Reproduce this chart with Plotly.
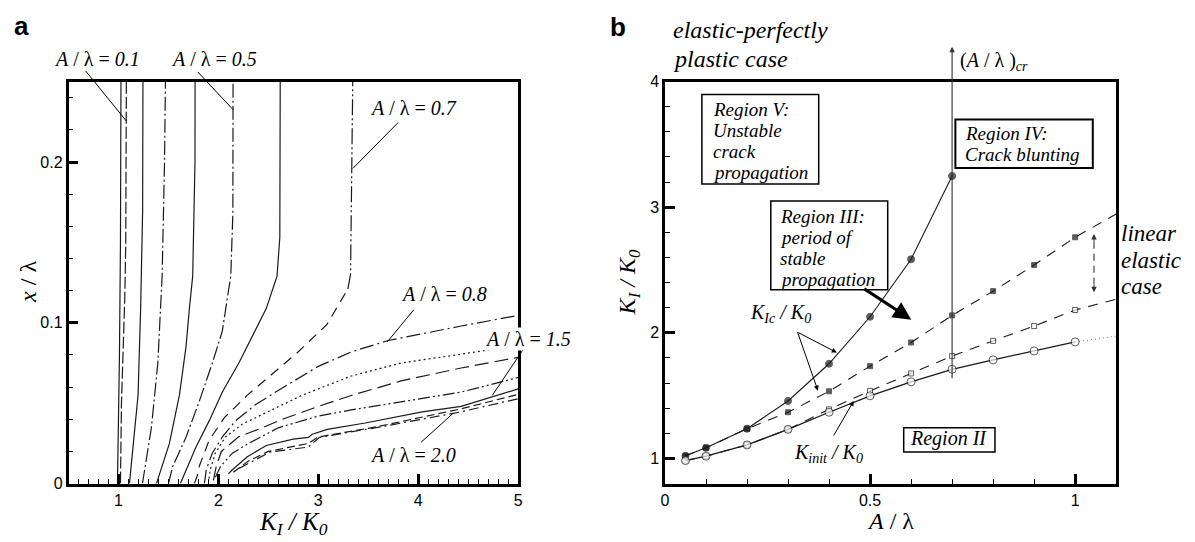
import plotly.graph_objects as go

W, H = 1195, 542
# plot-area pixel frames
LX0, LX1 = 65.0, 518.0
RX0, RX1 = 666.0, 1120.6
PY0, PY1 = 76.0, 491.0
L_XR, L_YR = [0.5, 5.0], [0.0, 0.25]
R_XR, R_YR = [0.0, 1.1], [0.8, 4.0]

# ---------------- panel a : x/lambda vs K_I/K_0 ----------------
a005_K = [0.99, 1.00, 1.01, 1.02, 1.025]
a005_x = [0.0, 0.03, 0.08, 0.15, 0.25]
a01_K = [1.02, 1.03, 1.063, 1.073, 1.079]
a01_x = [0.0, 0.05, 0.115, 0.15, 0.25]
a02_K = [1.11, 1.16, 1.196, 1.222, 1.242, 1.245]
a02_x = [0.0, 0.03, 0.055, 0.109, 0.17, 0.25]
a03_K = [1.24, 1.30, 1.33, 1.394, 1.421, 1.437, 1.461, 1.47]
a03_x = [0.0, 0.025, 0.035, 0.075, 0.109, 0.129, 0.2, 0.25]
a04_K = [1.38, 1.51, 1.61, 1.676, 1.71, 1.743, 1.766, 1.767]
a04_x = [0.0, 0.025, 0.055, 0.085, 0.109, 0.129, 0.2, 0.25]
a05_K = [1.50, 1.543, 1.676, 1.808, 1.94, 2.04, 2.074, 2.124, 2.145, 2.147]
a05_x = [0.0, 0.0106, 0.0288, 0.051, 0.075, 0.095, 0.109, 0.129, 0.168, 0.25]
a06_K = [1.62, 1.693, 1.776, 1.908, 2.04, 2.205, 2.37, 2.48, 2.587, 2.615, 2.619]
a06_x = [0.0, 0.0106, 0.0228, 0.039, 0.057, 0.075, 0.095, 0.109, 0.129, 0.153, 0.25]
a07_K = [1.76, 1.79, 1.81, 1.908, 2.06, 2.29, 2.517, 2.783, 3.087, 3.296, 3.323, 3.345]
a07_x = [0.0, 0.005, 0.011, 0.027, 0.041, 0.055, 0.067, 0.081, 0.099, 0.121, 0.13, 0.25]
a08_K = [1.86, 1.88, 1.94, 2.04, 2.17, 2.37, 2.64, 3.0, 3.33, 3.7, 4.43, 5.0]
a08_x = [0.0, 0.009, 0.019, 0.029, 0.039, 0.049, 0.0595, 0.0729, 0.0819, 0.089, 0.098, 0.1046]
a09_K = [1.90, 1.92, 1.97, 2.07, 2.24, 2.5, 2.84, 3.33, 3.83, 4.43, 5.0]
a09_x = [0.0, 0.009, 0.019, 0.029, 0.037, 0.045, 0.055, 0.0669, 0.075, 0.0805, 0.086]
a10_K = [1.95, 1.98, 2.03, 2.2, 2.44, 2.64, 3.0, 3.33, 3.83, 4.43, 5.0]
a10_x = [0.002, 0.011, 0.02, 0.029, 0.0347, 0.04, 0.048, 0.0548, 0.0639, 0.0719, 0.0785]
a12_K = [1.97, 2.02, 2.14, 2.3, 2.6, 3.0, 3.33, 3.83, 4.43, 5.0]
a12_x = [0.004, 0.0105, 0.0189, 0.0249, 0.0347, 0.042, 0.0458, 0.0508, 0.0569, 0.066]
a15_K = [2.10, 2.14, 2.29, 2.48, 2.75, 2.90, 2.94, 3.09, 3.47, 4.04, 4.43, 4.76, 5.0]
a15_x = [0.006, 0.0086, 0.0167, 0.0237, 0.0277, 0.0287, 0.0307, 0.0337, 0.0377, 0.0446, 0.048, 0.0545, 0.0589]
a17_K = [2.15, 2.30, 2.50, 2.90, 3.00, 3.60, 4.43, 5.0]
a17_x = [0.007, 0.014, 0.020, 0.025, 0.029, 0.0355, 0.0465, 0.0555]
a20_K = [2.21, 2.52, 2.90, 3.01, 3.66, 4.42, 5.0]
a20_x = [0.0096, 0.0197, 0.0227, 0.0287, 0.0357, 0.0445, 0.0528]

# ---------------- panel b : K_I/K_0 vs A/lambda ----------------
kic_pl_A = [0.05, 0.1, 0.2, 0.3, 0.4, 0.5, 0.6, 0.7]
kic_pl_K = [1.021, 1.085, 1.237, 1.458, 1.754, 2.128, 2.586, 3.249]
el_A = [0.05, 0.1, 0.2, 0.3, 0.4, 0.5, 0.6, 0.7, 0.8, 0.9, 1.0, 1.1]
kic_el_K = [1.021, 1.085, 1.237, 1.368, 1.535, 1.735, 1.923, 2.139, 2.332, 2.54, 2.761, 2.946]
kinit_el_K = [0.983, 1.018, 1.108, 1.232, 1.391, 1.538, 1.677, 1.815, 1.936, 2.054, 2.182, 2.267]
kinit_pl_A = [0.05, 0.1, 0.2, 0.3, 0.4, 0.5, 0.6, 0.7, 0.8, 0.9, 1.0]
kinit_pl_K = [0.983, 1.018, 1.108, 1.232, 1.368, 1.499, 1.61, 1.71, 1.785, 1.856, 1.928]
kinit_ext_A = [1.0, 1.1]
kinit_ext_K = [1.928, 1.974]
A_cr = 0.7

SERIF = "Liberation Serif"
SANS = "Liberation Sans"
LC = "#1a1a1a"

fig = go.Figure()

def curve(K, x, dash, width=1.2):
    fig.add_trace(go.Scatter(x=K, y=x, mode="lines", xaxis="x", yaxis="y",
                             line=dict(color=LC, width=width, dash=dash),
                             showlegend=False, hoverinfo="skip"))

curve(a005_K, a005_x, "solid")
curve(a01_K, a01_x, "12px,3px")
curve(a02_K, a02_x, "solid")
curve(a03_K, a03_x, "14px,3px,2px,3px")
curve(a04_K, a04_x, "solid")
curve(a05_K, a05_x, "14px,3px,2px,3px")
curve(a06_K, a06_x, "solid")
curve(a07_K[9:], a07_x[9:], "16px,3px,2px,3px,2px,3px")
curve(a07_K[:10], a07_x[:10], "10px,7px")
curve(a08_K, a08_x, "14px,4px,2px,4px")
curve(a09_K, a09_x, "2px,3px")
curve(a10_K, a10_x, "14px,6px")
curve(a12_K, a12_x, "12px,3px,2px,3px,2px,3px")
curve(a15_K, a15_x, "solid")
curve(a17_K, a17_x, "8px,4px")
curve(a20_K, a20_x, "10px,4px,2px,4px")

def series(A, K, dash, msym, mfill, msize, width=1.1):
    sizes = [msize if a <= 1.0 else 0 for a in A]
    fig.add_trace(go.Scatter(x=A, y=K, mode="lines+markers", xaxis="x2", yaxis="y2",
                             line=dict(color=LC, width=width, dash=dash),
                             marker=dict(symbol=msym, size=sizes, color=mfill,
                                         line=dict(color=LC, width=1)),
                             showlegend=False, hoverinfo="skip"))

series(el_A, kinit_el_K, "10px,8px", "square", "white", 5)
series(el_A, kic_el_K, "10px,8px", "square", LC, 5)
series(kic_pl_A, kic_pl_K, "solid", "circle", LC, 7)
fig.add_trace(go.Scatter(x=kinit_ext_A, y=kinit_ext_K, mode="lines", xaxis="x2", yaxis="y2",
                         line=dict(color="#777", width=1, dash="1px,3px"),
                         showlegend=False, hoverinfo="skip"))
series(kinit_pl_A, kinit_pl_K, "solid", "circle", "white", 8, width=1.3)

# ---------- coordinate helpers (for annotations / shapes only) ----------
def lpix(K, x):
    return (LX0 + (K - L_XR[0]) / (L_XR[1] - L_XR[0]) * (LX1 - LX0),
            PY1 - (x - L_YR[0]) / (L_YR[1] - L_YR[0]) * (PY1 - PY0))

def rpix(A, K):
    return (RX0 + (A - R_XR[0]) / (R_XR[1] - R_XR[0]) * (RX1 - RX0),
            PY1 - (K - R_YR[0]) / (R_YR[1] - R_YR[0]) * (PY1 - PY0))

def paper(px, py):
    return px / W, 1 - py / H

ann = []
shapes = []

def text(px, py, t, size=20, family=SERIF, xanchor="center", bg=None, angle=0):
    x, y = paper(px, py)
    d = dict(x=x, y=y, xref="paper", yref="paper", text=t, showarrow=False,
             font=dict(family=family, size=size, color="black"),
             xanchor=xanchor, yanchor="middle", textangle=angle)
    if bg:
        d.update(bgcolor=bg, borderpad=0)
    ann.append(d)

def arrow(tail, head, head_style=2, width=1.0, size=1.0, color="black"):
    hx, hy = head
    tx, ty = tail
    x, y = paper(hx, hy)
    ann.append(dict(x=x, y=y, xref="paper", yref="paper", text="", showarrow=True,
                    ax=tx - hx, ay=ty - hy, axref="pixel", ayref="pixel",
                    arrowhead=head_style, arrowwidth=width, arrowsize=size,
                    arrowcolor=color, standoff=0, startstandoff=0))

def seg(p0, p1, width=1.0, color="black", dash="solid"):
    x0, y0 = paper(*p0)
    x1, y1 = paper(*p1)
    shapes.append(dict(type="line", xref="paper", yref="paper", x0=x0, y0=y0, x1=x1, y1=y1,
                       line=dict(color=color, width=width, dash=dash)))

def box(p0, p1, width=1.5):
    x0, y0 = paper(*p0)
    x1, y1 = paper(*p1)
    shapes.append(dict(type="rect", xref="paper", yref="paper", x0=x0, y0=y0, x1=x1, y1=y1,
                       line=dict(color="black", width=width), fillcolor="white", layer="above"))

def paragraph(px, py_first, lines, size=19, step=21.5):
    for i, t in enumerate(lines):
        text(px, py_first + i * step, "<i>%s</i>" % t, size=size, xanchor="left")

def lab(v):
    return "<i>A</i> / λ = <i>%s</i>" % v

# ---- panel a labels with leader lines ----
for (lK, lx, t, tail, head, bg) in [
        (0.786, 0.2638, "0.1", (0.672, 0.2566), (1.079, 0.2255), None),
        (1.957, 0.2638, "0.5", (1.794, 0.2560), (2.148, 0.2325), None),
        (3.956, 0.2337, "0.7", (3.799, 0.2245), (3.346, 0.1960), "white"),
        (4.257, 0.1180, "0.8", (3.954, 0.1080), (3.689, 0.0880), "white"),
        (5.102, 0.0898, "1.5", (5.056, 0.0839), (4.741, 0.0548), "white"),
        (3.953, 0.0175, "2.0", (4.029, 0.0257), (4.344, 0.0434), "white")]:
    seg(lpix(*tail), lpix(*head))
    text(*lpix(lK, lx), lab(t), size=20, bg=bg)

# ---- panel b annotations ----
# critical A/lambda line
arrow(rpix(A_cr, kinit_pl_K[kinit_pl_A.index(A_cr)]), rpix(A_cr, 4.277),
      width=1.1, size=1.0, color="#333")
text(*rpix(0.802, 4.162), "(<i>A</i> / λ )<sub><i>cr</i></sub>", size=20)

text(*rpix(0.0145, 4.408), "<i>elastic-perfectly</i>", size=24, xanchor="left")
text(*rpix(0.0145, 4.177), "<i>plastic case</i>", size=24, xanchor="left")

box(rpix(0.090, 3.185), rpix(0.3748, 3.897))
paragraph(rpix(0.1113, 0)[0], 105.0, ["Region V:", "Unstable", "crack", "propagation"])

box(rpix(0.708, 3.313), rpix(1.043, 3.699), width=2)
paragraph(rpix(0.726, 0)[0], 130.0, ["Region IV:", "Crack blunting"], step=21.7)

box(rpix(0.258, 2.344), rpix(0.543, 3.049))
paragraph(rpix(0.276, 0)[0], 215.5, ["Region III:", "period of", "stable", "propagation"])

box(rpix(0.582, 1.052), rpix(0.8045, 1.245))
text(*rpix(0.692, 1.160), "<i>Region II</i>", size=20)

paragraph(rpix(1.108, 0)[0], 233.0, ["linear", "elastic", "case"], size=23, step=27.5)

# dashed double arrow (linear elastic)
p_top, p_bot = rpix(1.046, 2.787), rpix(1.046, 2.324)
seg((p_top[0], p_top[1] + 8), (p_bot[0], p_bot[1] - 8), width=1.1, color="#333", dash="7px,5px")
arrow((p_top[0], p_top[1] + 9), p_top, width=1.1, color="#333")
arrow((p_bot[0], p_bot[1] - 9), p_bot, width=1.1, color="#333")

# K_Ic / K_0 label + arrows
text(*rpix(0.2807, 2.157), "<i>K<sub>Ic</sub> / K<sub>0</sub></i>", size=20)
arrow(rpix(0.3223, 2.003), rpix(0.4188, 1.843))
arrow(rpix(0.3223, 2.003), rpix(0.3729, 1.540))
# K_init / K_0 label + arrow
text(*rpix(0.398, 1.039), "<i>K<sub>init</sub> / K<sub>0</sub></i>", size=20)
arrow(rpix(0.4096, 1.180), rpix(0.4602, 1.458))
# big arrow from Region III
arrow(rpix(0.4832, 2.350), rpix(0.6005, 2.105), width=3.0, size=1.2)

# axis titles & panel letters
text(292, 532, "<i>K<sub>I</sub> / K<sub>0</sub></i>", size=25)
text(24, 283, "<i>x</i> / λ", size=24, angle=-90)
text(893, 530, "<i>A</i> / λ", size=24)
text(630, 283, "<i>K<sub>I</sub> / K<sub>0</sub></i>", size=24, angle=-90)
text(18, 19, "<b>a</b>", size=26, family=SANS)
text(619, 20, "<b>b</b>", size=26, family=SANS)

def axis(dom, rng, dtick, minor_dtick, anchor):
    return dict(domain=dom, range=rng, dtick=dtick, tick0=0, tickmode="linear",
                ticks="inside", ticklen=10, tickwidth=2.5, tickcolor="black",
                minor=dict(dtick=minor_dtick, tick0=0, ticks="inside", ticklen=5,
                           tickwidth=1.2, tickcolor="black", showgrid=False),
                showline=True, linewidth=2.5, linecolor="black", mirror=True,
                showgrid=False, zeroline=False, anchor=anchor,
                tickfont=dict(family=SANS, size=16, color="black"))

ydom = [1 - PY1 / H, 1 - PY0 / H]
fig.update_layout(
    width=W, height=H, margin=dict(l=0, r=0, t=0, b=0),
    paper_bgcolor="white", plot_bgcolor="white",
    xaxis=axis([LX0 / W, LX1 / W], L_XR, 1, 0.1, "y"),
    yaxis=axis(ydom, L_YR, 0.1, 0.02, "x"),
    xaxis2=axis([RX0 / W, RX1 / W], R_XR, 0.5, 0.1, "y2"),
    yaxis2=axis(ydom, R_YR, 1, 0.2, "x2"),
    annotations=ann, shapes=shapes, showlegend=False,
)

fig.write_html("out.html")
